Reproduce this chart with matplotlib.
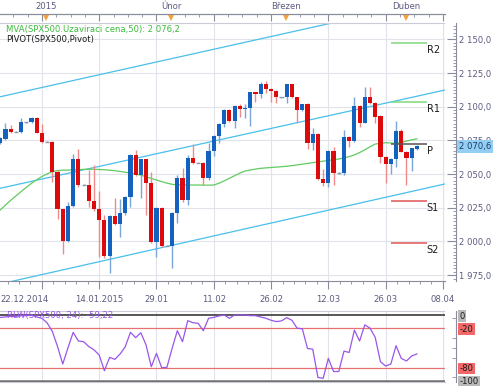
import numpy as np
import matplotlib
matplotlib.use("Agg")
import matplotlib.pyplot as plt
import matplotlib.transforms as mtrans
from matplotlib.ticker import FixedLocator, MultipleLocator

# --- data (x = bar index) ---
opens = [2072.8, 2076.0, 2083.4, 2081.4, 2081.2, 2088.4, 2088.4, 2091.9, 2080.7, 2074.0,
         2074.0, 2051.8, 2023.8, 2000.4, 2026.3, 2060.9, 2041.9, 2041.9, 2030.0, 2024.3,
         2015.9, 1989.5, 2019.1, 2013.2, 2020.9, 2032.8, 2063.9, 2049.3, 2060.9, 2043.6,
         1999.9, 2024.8, 1996.9, 1996.9, 2021.4, 2047.3, 2030.8, 2061.9, 2058.5, 2058.5,
         2047.3, 2066.9, 2078.3, 2086.9, 2097.5, 2089.4, 2100.8, 2098.3, 2099.3, 2110.7,
         2109.7, 2116.6, 2113.1, 2111.9, 2106.9, 2106.9, 2116.6, 2106.9, 2097.5, 2102.2,
         2072.8, 2079.7, 2046.1, 2043.6, 2067.4, 2050.8, 2050.6, 2077.7, 2074.5, 2100.8,
         2088.1, 2107.4, 2103.0, 2093.1, 2062.9, 2057.5, 2060.9, 2082.2, 2066.6, 2062.2,
         2068.9]
highs = [2077.3, 2087.6, 2086.4, 2082.0, 2091.9, 2088.8, 2092.6, 2092.6, 2087.2, 2074.3,
         2074.5, 2053.0, 2024.0, 2029.5, 2064.6, 2068.4, 2042.3, 2053.0, 2056.7, 2037.7,
         2019.6, 2019.6, 2032.0, 2031.5, 2033.7, 2064.6, 2067.9, 2061.4, 2061.4, 2051.8,
         2025.3, 2025.3, 1997.4, 2022.1, 2049.3, 2054.3, 2064.2, 2072.1, 2058.8, 2059.2,
         2072.8, 2078.8, 2087.6, 2098.0, 2098.0, 2101.3, 2102.0, 2101.7, 2111.2, 2111.2,
         2118.3, 2119.3, 2113.6, 2112.4, 2107.4, 2117.1, 2117.1, 2107.4, 2102.2, 2102.7,
         2083.9, 2080.2, 2053.8, 2067.9, 2069.8, 2051.6, 2082.7, 2078.3, 2107.4, 2101.3,
         2114.4, 2114.4, 2103.5, 2093.6, 2063.4, 2061.7, 2089.4, 2083.2, 2067.1, 2069.6,
         2071.3]
lows = [2072.3, 2075.3, 2080.7, 2081.0, 2080.7, 2088.1, 2087.6, 2080.2, 2072.8, 2073.6,
        2044.4, 2016.4, 1990.7, 1999.9, 2025.8, 2040.7, 2041.6, 2025.8, 2022.9, 1988.7,
        1987.5, 1976.4, 2012.2, 2003.6, 2019.6, 2025.8, 2048.6, 2032.0, 2019.6, 1999.1,
        1988.7, 1996.2, 1996.4, 1980.1, 2013.5, 2029.5, 2027.1, 2057.5, 2058.1, 2041.9,
        2045.6, 2063.4, 2072.8, 2085.2, 2088.9, 2083.9, 2092.6, 2091.4, 2085.7, 2103.7,
        2106.7, 2109.9, 2103.7, 2103.0, 2106.6, 2103.0, 2106.4, 2087.6, 2097.0, 2068.4,
        2067.9, 2045.6, 2041.2, 2040.7, 2041.6, 2050.3, 2049.3, 2069.8, 2074.0, 2085.2,
        2087.6, 2102.0, 2087.6, 2058.0, 2043.1, 2049.8, 2055.5, 2066.1, 2041.9, 2052.5,
        2067.9]
closes = [2076.5, 2083.2, 2081.5, 2081.6, 2088.6, 2088.5, 2091.9, 2080.7, 2073.8, 2073.9,
          2051.8, 2023.8, 2000.4, 2026.3, 2060.9, 2041.9, 2042.0, 2030.0, 2024.3, 2015.9,
          1989.5, 2019.1, 2013.2, 2020.9, 2032.8, 2063.9, 2049.3, 2060.9, 2043.6, 1999.9,
          2024.8, 1996.9, 1997.0, 2021.4, 2047.3, 2030.8, 2061.9, 2058.0, 2058.4, 2047.3,
          2066.9, 2078.3, 2086.9, 2097.5, 2089.4, 2100.8, 2098.3, 2099.3, 2110.7, 2109.2,
          2116.6, 2112.9, 2111.9, 2106.9, 2107.0, 2116.6, 2106.9, 2097.5, 2101.7, 2072.8,
          2079.7, 2046.1, 2043.6, 2067.4, 2051.0, 2051.2, 2077.3, 2074.5, 2100.8, 2088.1,
          2107.4, 2102.5, 2092.6, 2062.9, 2057.5, 2061.2, 2082.2, 2066.6, 2061.7, 2069.1,
          2070.6]

mva50 = [2023.4, 2027.0, 2030.5, 2033.8, 2037.0, 2040.2, 2043.2, 2045.8, 2048.2, 2050.2,
         2051.8, 2052.6, 2052.9, 2053.0, 2053.1, 2053.3, 2053.5, 2053.6, 2053.6, 2053.4,
         2053.2, 2052.9, 2052.5, 2052.0, 2051.4, 2050.8, 2050.1, 2049.2, 2048.0, 2046.8,
         2045.6, 2044.4, 2043.3, 2042.4, 2042.1, 2042.0, 2041.9, 2041.9, 2041.9, 2041.8,
         2041.8, 2041.9, 2043.2, 2045.0, 2046.9, 2048.8, 2050.7, 2052.3, 2053.0, 2053.7,
         2054.3, 2054.6, 2054.9, 2055.2, 2055.5, 2055.8, 2056.3, 2056.8, 2057.4, 2057.9,
         2058.5, 2059.0, 2059.6, 2060.2, 2060.7, 2061.2, 2062.0, 2063.0, 2064.2, 2066.0,
         2068.0, 2070.3, 2072.3, 2072.8, 2073.3, 2073.1, 2072.8, 2073.6, 2074.5, 2075.4,
         2076.2]

rlw = [-3.6, -3, -2, -2, -1, -1, 0, -3, -5, -12,
       -25, -48, -74.6, -50, -26.4, -39.6, -40.6, -48, -53, -61,
       -84.8, -64.5, -67.5, -59.4, -48.2, -26.4, -34.5, -27, -45.7, -78.7,
       -58.4, -80.2, -79.7, -50.8, -23.9, -40.6, -8.6, -11.7, -12.7, -23.9,
       -5, -3.6, -1.5, 0, -5, 0, 0, 0, -1, -1,
       -3, -5, -8, -10, -9, -4, -8, -20, -21, -51,
       -52, -95, -96.4, -66, -86, -86, -55, -57, -23, -39.6,
       -15, -20, -34, -71, -77.7, -74.6, -46.7, -66, -70, -62.4,
       -59.22]

pivot_names = ["R2", "R1", "P", "S1", "S2"]
pivot_levels = [2147.0, 2103.5, 2072.1, 2030.0, 1998.7]
pivot_from, pivot_to = 75.0, 81.9

channel_x = [0, 85.4]
channel_upper = [2107.4, 2180.8]
channel_mid = [2039.5, 2112.4]
channel_low = [1968.5, 2042.7]

grid_pos = [8, 19, 30, 41, 52, 63, 74, 85]
date_labels = ["22.12.2014", "14.01.2015", "29.01", "11.02", "26.02", "12.03", "26.03", "08.04"]
month_pos = [8.8, 32.8, 54.9, 77.9]
month_labels = ["2015", "Únor", "Březen", "Duben"]
price_ticks = [1975, 2000, 2025, 2050, 2075, 2100, 2125, 2150]
last_price = 2070.6
rlw_levels = [0, -20, -80, -100]

# --- styling ---
BLUE, RED = "#1462bf", "#dc0a0a"
BLUE_W, RED_W = "#7aa6d8", "#ee8a8a"
DOJI = "#8a9ab4"
TXT = "#5c5c80"
GRIDC = "#e2e3ea"
BOX = "#c9ccd6"
AXC = "#8a8c9c"
FS = 6.1

plt.rcParams["font.family"] = ["DejaVu Sans"]

W, H = 500, 386
fig = plt.figure(figsize=(W / 100, H / 100), dpi=100)
fig.patch.set_facecolor("white")


def frac(x0, y_top, x1, y_bot):
    return [x0 / W, 1 - y_bot / H, (x1 - x0) / W, (y_bot - y_top) / H]


ax = fig.add_axes(frac(0, 23.3, 445, 280.7))
sax = fig.add_axes(frac(445, 23.3, 456, 280.7))
rax = fig.add_axes(frac(0, 310.5, 445, 381.5))
rsax = fig.add_axes(frac(445, 310.5, 456, 381.5))

xlim = (-0.05, 85.4)
ylim = (1970.9, 2161.9)

# --- main price panel ---
ax.set_xlim(xlim)
ax.set_ylim(ylim)
ax.set_yticks(price_ticks)
ax.set_xticks(grid_pos)
ax.set_xticklabels([])
ax.xaxis.set_minor_locator(FixedLocator(np.arange(-0.8, 86, 2.2)))
ax.tick_params(axis="y", length=0, labelleft=False)
ax.tick_params(axis="x", which="major", direction="out", length=6, color=AXC)
ax.tick_params(axis="x", which="minor", direction="out", length=2.5, color=AXC)
ax.grid(True, color=GRIDC, lw=0.8)
ax.set_axisbelow(True)
ax.spines["left"].set_visible(False)
for s in ["top", "right"]:
    ax.spines[s].set_color(BOX)
ax.spines["bottom"].set_color(AXC)

# channel
for ys in (channel_upper, channel_mid, channel_low):
    ax.plot(channel_x, ys, color="#48c0ea", lw=0.9, zorder=2)

# moving average
x = np.arange(len(closes))
ax.plot(x, mva50, color="#5fcc5f", lw=0.9, zorder=3)

# candles
for i in range(len(closes)):
    o, h, l, c = opens[i], highs[i], lows[i], closes[i]
    up = c >= o
    ax.vlines(i, l, h, color=BLUE_W if up else RED_W, lw=1.0, zorder=4)
    if abs(c - o) < 0.5:
        ax.hlines((o + c) / 2, i - 0.4, i + 0.4, color=DOJI, lw=1.0, zorder=5)
    else:
        ax.bar(i, abs(c - o), bottom=min(o, c), width=0.8,
               color=BLUE if up else RED, lw=0, zorder=5)

# pivot levels
pcol = {"R2": "#7ed87e", "R1": "#7ed87e", "P": "#555555", "S1": "#e05555", "S2": "#e05555"}
for name, lev in zip(pivot_names, pivot_levels):
    ax.hlines(lev, pivot_from, pivot_to, color=pcol[name], lw=1.1, zorder=6)
    ax.annotate(name, xy=(pivot_to, lev), xytext=(0, -2), textcoords="offset pixels",
                ha="left", va="top", fontsize=7, color="#1c1c1c", zorder=7)

# legend texts
ax.text(0.0135, 0.976, "MVA(SPX500.Uzaviraci cena,50): 2 076,2".replace(": 2 076,2", ": %s" % f"{mva50[-1]:,.1f}".replace(",", " ").replace(".", ",")),
        transform=ax.transAxes, ha="left", va="center", fontsize=FS, color="#3cba3c")
ax.text(0.0135, 0.939, "PIVOT(SPX500,Pivot)", transform=ax.transAxes,
        ha="left", va="center", fontsize=FS, color="#1c1c1c")

# bottom date labels
blend = mtrans.blended_transform_factory(ax.transData, ax.transAxes)
for k, (pos, lab) in enumerate(zip(grid_pos, date_labels)):
    if k == 0:
        ax.annotate(lab, xy=(0, 0), xycoords="axes fraction", xytext=(0, -18.5),
                    textcoords="offset pixels", ha="left", va="center",
                    fontsize=FS, color=TXT, annotation_clip=False)
    else:
        ax.annotate(lab, xy=(pos, 0), xycoords=blend, xytext=(0, -18.5),
                    textcoords="offset pixels", ha="center", va="center",
                    fontsize=FS, color=TXT, annotation_clip=False)

# top month bar
top_loc = 1 + 9.3 / 257.4
sec = ax.secondary_xaxis(top_loc)
sec.set_xticks(month_pos, labels=month_labels)
sec.xaxis.set_minor_locator(FixedLocator(np.arange(-0.25, 86, 2.75)))
sec.tick_params(which="major", length=0, pad=2, labelsize=FS, labelcolor=TXT)
sec.tick_params(which="minor", direction="in", length=2.5, color=AXC)
sec.spines["top"].set_color(AXC)
sec2 = ax.secondary_xaxis(top_loc)
sec2.set_xticks(grid_pos, labels=[])
sec2.tick_params(which="major", direction="in", length=5, color=AXC)
sec2.spines["top"].set_color(AXC)
ax.plot(month_pos, [1 + 5.8 / 257.4] * len(month_pos), "v", color="#f2a23a",
        ms=4, mew=0, transform=blend, clip_on=False, zorder=8)

# price scale
sax.set_ylim(ylim)
sax.set_xlim(0, 1)
sax.set_xticks([])
for s in ["left", "top", "bottom"]:
    sax.spines[s].set_visible(False)
sax.spines["right"].set_color(AXC)
sax.yaxis.tick_right()
sax.set_yticks(price_ticks)
sax.set_yticklabels([f"{v:,.1f}".replace(",", " ").replace(".", ",") for v in price_ticks])
sax.yaxis.set_minor_locator(MultipleLocator(2.5))
sax.tick_params(axis="y", which="major", direction="in", length=6.5, pad=2,
                color=AXC, labelsize=FS, labelcolor=TXT)
sax.tick_params(axis="y", which="minor", direction="in", length=2.3, color=AXC)
sax.annotate(f"{last_price:,.1f}".replace(",", " ").replace(".", ","), xy=(1, last_price),
             xycoords=("axes fraction", "data"), xytext=(3, 0), textcoords="offset pixels",
             ha="left", va="center", fontsize=FS, color="#1d3d6e",
             bbox=dict(boxstyle="square,pad=0.25", fc="#93cff2", ec="none"),
             annotation_clip=False, zorder=10)

# --- Williams %R panel ---
rax.set_xlim(xlim)
rax.set_ylim(-101.2, 6.85)
rax.set_xticks(grid_pos)
rax.set_xticklabels([])
rax.set_yticks([])
rax.tick_params(axis="x", length=0)
rax.grid(True, axis="x", color=GRIDC, lw=0.8)
rax.set_axisbelow(True)
rax.spines["left"].set_visible(False)
for s in ["top", "right", "bottom"]:
    rax.spines[s].set_color(BOX)
lvl_style = {0: ("#2a2a2a", 1.1), -20: ("#e87070", 0.9), -80: ("#e87070", 0.9), -100: ("#6e6e6e", 1.8)}
for lev in rlw_levels:
    c, w = lvl_style[lev]
    rax.axhline(lev, color=c, lw=w, zorder=2)
rax.plot(x, rlw, color="#9a55ea", lw=0.9, zorder=3)
rax.text(0.015, 0.925, "RLW(SPX500, 24): %s" % f"{rlw[-1]:.2f}".replace(".", ","),
         transform=rax.transAxes, ha="left", va="center", fontsize=FS, color="#9a55ea", zorder=4)

rsax.set_ylim(-101.2, 6.85)
rsax.set_xlim(0, 1)
rsax.set_xticks([])
for s in ["left", "top", "bottom"]:
    rsax.spines[s].set_visible(False)
rsax.spines["right"].set_color(AXC)
rsax.yaxis.tick_right()
rsax.set_yticks(rlw_levels)
rsax.set_yticklabels([str(v) for v in rlw_levels])
rsax.yaxis.set_minor_locator(FixedLocator(np.arange(-95, 0, 15)))
rsax.tick_params(axis="y", which="major", direction="in", length=0, pad=2.5,
                 labelsize=FS, labelcolor="#1c1c1c")
rsax.tick_params(axis="y", which="minor", direction="in", length=3, color=AXC)
box_col = {0: "#b9b9b9", -20: "#f26868", -80: "#f26868", -100: "#b9b9b9"}
for lab, v in zip(rsax.get_yticklabels(), rlw_levels):
    lab.set_bbox(dict(boxstyle="square,pad=0.15", fc=box_col[v], ec="none"))

fig.savefig("out.png", dpi=100, facecolor="white")
